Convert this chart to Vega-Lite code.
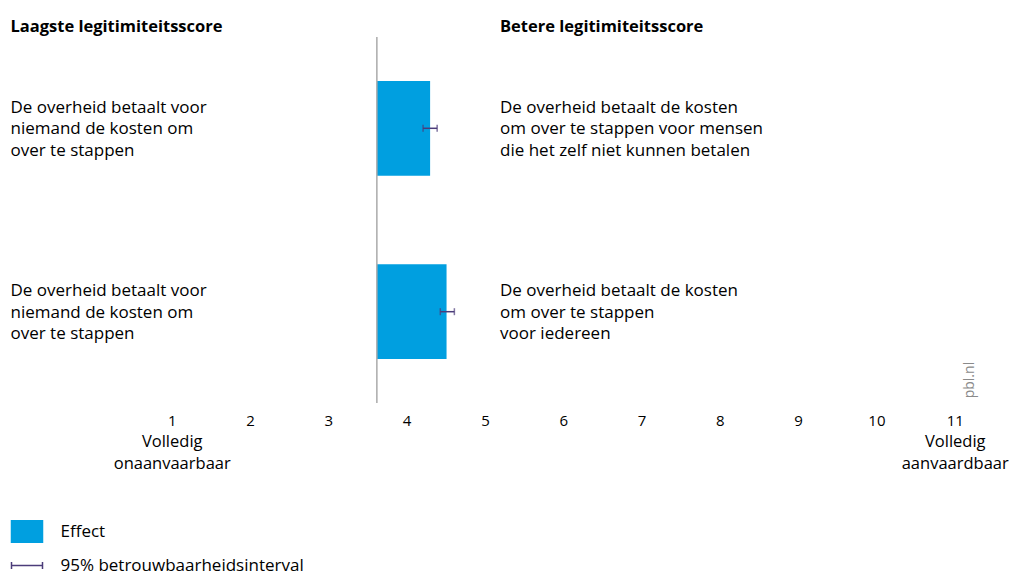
{
  "$schema": "https://vega.github.io/schema/vega-lite/v6.json",
  "width": 1009,
  "height": 366,
  "autosize": "none",
  "padding": {"left": 0, "top": 37, "right": 0, "bottom": 171},
  "background": "white",
  "config": {
    "view": {"stroke": null},
    "font": "Open Sans",
    "text": {"font": "Open Sans", "color": "#000000"}
  },
  "datasets": {
    "effecten": [
      {"rij": "r1", "links": "De overheid betaalt voor\nniemand de kosten om\nover te stappen", "rechts": "De overheid betaalt de kosten\nom over te stappen voor mensen\ndie het zelf niet kunnen betalen", "basis": 3.62, "effect": 4.30, "onder": 4.21, "boven": 4.39},
      {"rij": "r2", "links": "De overheid betaalt voor\nniemand de kosten om\nover te stappen", "rechts": "De overheid betaalt de kosten\nom over te stappen\nvoor iedereen", "basis": 3.62, "effect": 4.51, "onder": 4.43, "boven": 4.61}
    ],
    "koppen": [
      {"kolom": "links", "kop": "Laagste legitimiteitsscore"},
      {"kolom": "rechts", "kop": "Betere legitimiteitsscore"}
    ],
    "bron": [{"tekst": "pbl.nl"}]
  },
  "resolve": {"axis": {"x": "independent"}},
  "layer": [
    {
      "data": {"name": "effecten"},
      "mark": {"type": "bar"},
      "encoding": {
        "x": {
          "field": "basis", "type": "quantitative",
          "scale": {"domain": [-1.1929, 11.693], "nice": false, "zero": false},
          "axis": {
            "orient": "bottom",
            "values": [1, 2, 3, 4, 5, 6, 7, 8, 9, 10, 11],
            "title": null, "domain": false, "ticks": false, "grid": false,
            "labelFontSize": 15, "labelPadding": 10, "labelColor": "#000000",
            "labelFont": "Open Sans", "labelFlush": false, "labelOverlap": false
          }
        },
        "x2": {"field": "effect"},
        "y": {
          "field": "rij", "type": "nominal",
          "scale": {"domain": ["r1", "r2"], "paddingInner": 0.4837, "paddingOuter": 0.2397, "align": 0.5},
          "axis": null
        },
        "color": {
          "datum": "Effect",
          "scale": {"domain": ["Effect", "95% betrouwbaarheidsinterval"], "range": ["#009fe0", "#4b3c7a"]},
          "legend": {
            "title": null, "orient": "none", "legendX": 10.5, "legendY": 478,
            "direction": "vertical", "padding": 0, "symbolSize": 961,
            "labelOffset": 17, "rowPadding": 3, "labelFontSize": 17, "labelFont": "Open Sans",
            "labelColor": "#000000", "labelLimit": 400, "symbolStrokeWidth": 1.5,
            "encode": {
              "symbols": {
                "update": {
                  "shape": {"signal": "datum.value === 'Effect' ? 'M-1,-0.69H1V0.69H-1Z' : 'M-1,0H1M-1,-0.22V0.22M1,-0.22V0.22'"},
                  "fill": {"signal": "datum.value === 'Effect' ? '#009fe0' : 'transparent'"},
                  "stroke": {"signal": "datum.value === 'Effect' ? 'transparent' : '#4b3c7a'"},
                  "strokeWidth": {"value": 1.5},
                  "opacity": {"value": 1},
                  "fillOpacity": {"value": 1}
                }
              }
            }
          }
        }
      }
    },
    {
      "data": {"name": "effecten"},
      "mark": {"type": "rule", "color": "#aaaaaa", "strokeWidth": 1.5},
      "encoding": {
        "x": {
          "field": "basis", "aggregate": "mean", "type": "quantitative",
          "axis": {
            "orient": "bottom",
            "values": [1, 11],
            "labelExpr": "datum.value == 1 ? ['Volledig', 'onaanvaarbaar'] : ['Volledig', 'aanvaardbaar']",
            "title": null, "domain": false, "ticks": false, "grid": false,
            "labelFontSize": 16.5, "labelLineHeight": 22.5, "labelPadding": 30,
            "labelColor": "#000000", "labelFont": "Open Sans", "labelFlush": false, "labelOverlap": false
          }
        }
      }
    },
    {
      "data": {"name": "effecten"},
      "mark": {"type": "errorbar", "ticks": {"size": 7, "thickness": 1.5, "color": "#4b3c7a"}, "thickness": 1.5, "color": "#4b3c7a"},
      "encoding": {
        "x": {"field": "onder", "type": "quantitative", "axis": null},
        "x2": {"field": "boven"},
        "y": {"field": "rij", "type": "nominal"},
        "color": {"datum": "95% betrouwbaarheidsinterval"}
      }
    },
    {
      "data": {"name": "effecten"},
      "mark": {"type": "text", "align": "left", "baseline": "alphabetic", "fontSize": 17, "lineHeight": 21.5, "lineBreak": "\n", "dy": -15.6},
      "encoding": {
        "x": {"datum": -1.059, "axis": null},
        "y": {"field": "rij", "type": "nominal"},
        "text": {"field": "links"}
      }
    },
    {
      "data": {"name": "effecten"},
      "mark": {"type": "text", "align": "left", "baseline": "alphabetic", "fontSize": 17, "lineHeight": 21.5, "lineBreak": "\n", "dy": -15.6},
      "encoding": {
        "x": {"datum": 5.193, "axis": null},
        "y": {"field": "rij", "type": "nominal"},
        "text": {"field": "rechts"}
      }
    },
    {
      "data": {"name": "koppen"},
      "transform": [{"filter": "datum.kolom === 'links'"}],
      "mark": {"type": "text", "align": "left", "baseline": "alphabetic", "fontSize": 16.5, "fontWeight": "bold", "dy": -96.6},
      "encoding": {
        "x": {"datum": -1.059, "axis": null},
        "y": {"datum": "r1"},
        "text": {"field": "kop"}
      }
    },
    {
      "data": {"name": "koppen"},
      "transform": [{"filter": "datum.kolom === 'rechts'"}],
      "mark": {"type": "text", "align": "left", "baseline": "alphabetic", "fontSize": 16.5, "fontWeight": "bold", "dy": -96.6},
      "encoding": {
        "x": {"datum": 5.193, "axis": null},
        "y": {"datum": "r1"},
        "text": {"field": "kop"}
      }
    },
    {
      "data": {"name": "bron"},
      "mark": {"type": "text", "align": "left", "baseline": "middle", "angle": 270, "fontSize": 14, "color": "#8a8a8a", "dx": -86.6},
      "encoding": {
        "x": {"datum": 11.195, "axis": null},
        "y": {"datum": "r2"},
        "text": {"field": "tekst"}
      }
    }
  ]
}
